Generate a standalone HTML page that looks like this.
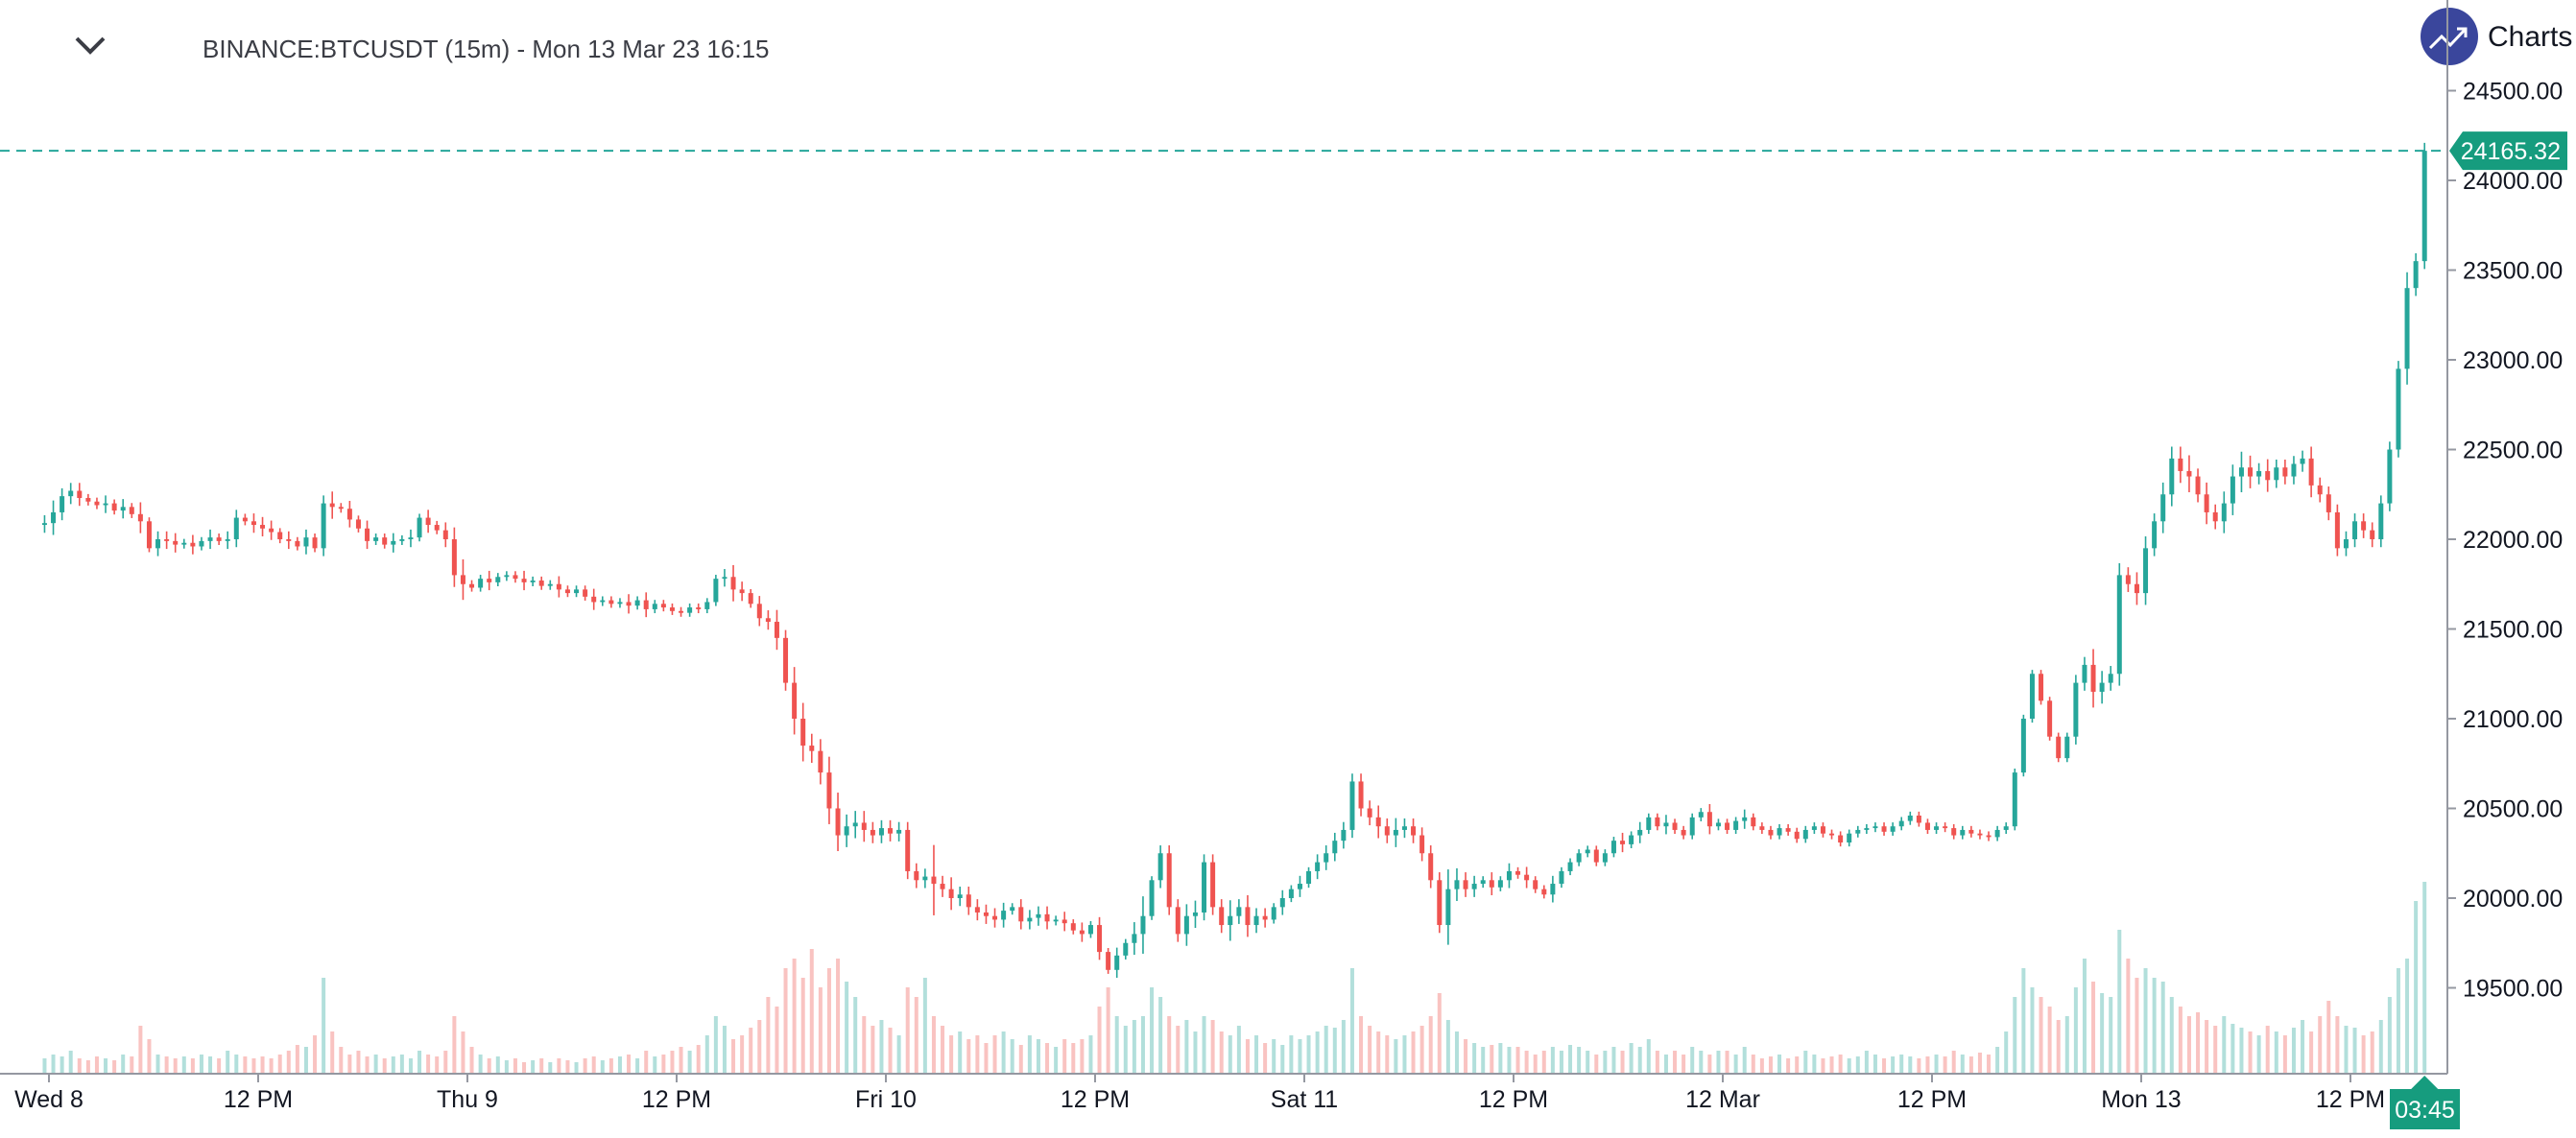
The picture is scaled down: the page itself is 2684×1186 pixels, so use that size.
<!DOCTYPE html>
<html><head><meta charset="utf-8"><style>
body{margin:0;background:#fff;width:2684px;height:1186px;overflow:hidden;font-family:"Liberation Sans",sans-serif}
svg{display:block}
</style></head><body>
<svg id="c" width="2684" height="1186" xmlns="http://www.w3.org/2000/svg">
<g>
<path d="M80 40 L94 54 L108 40" stroke="#3b3d45" stroke-width="4" fill="none"/>
<text x="211" y="60" font-size="26" fill="#3b3d45">BINANCE:BTCUSDT (15m) - Mon 13 Mar 23 16:15</text>
<circle cx="2552" cy="38" r="30" fill="#3a469c"/>
<path d="M2532 50 L2544 38 L2553 47 L2569 30 M2560 30 L2569 30 L2569 39" stroke="#fff" stroke-width="3" fill="none"/>
<text x="2592" y="48" font-size="30" fill="#131722">Charts p</text>
</g>
<g id="vol"></g>
<g id="candles"></g>
<g id="axes"></g>
</svg>
<script>
const closes=[22090,22150,22240,22270,22230,22210,22190,22200,22160,22180,22140,22100,21950,22000,21990,21970,21980,21960,21990,22010,21990,22000,22120,22100,22080,
22060,22040,22000,21990,21960,22010,21950,22200,22180,22170,22110,22060,21990,22010,21970,21990,22000,22010,22120,22080,22050,22000,21800,21750,
21730,21780,21760,21790,21800,21780,21760,21770,21740,21750,21720,21700,21720,21680,21650,21660,21640,21650,21630,21660,21610,21640,21620,21600,
21590,21620,21610,21650,21780,21790,21720,21700,21640,21560,21540,21450,21200,21000,20850,20820,20700,20500,20350,20400,20420,20380,20350,20390,
20360,20380,20150,20100,20120,20080,20050,20000,20020,19950,19920,19900,19880,19930,19950,19870,19890,19910,19870,19880,19860,19820,19800,19850,
19700,19600,19680,19750,19800,19900,20100,20250,19950,19800,19900,19920,20200,19950,19850,19900,19950,19850,19900,19880,19950,20000,20050,20080,
20150,20200,20250,20320,20380,20650,20500,20450,20400,20350,20380,20400,20350,20250,20100,19850,20050,20100,20050,20080,20100,20060,20100,20150,
20130,20100,20050,20020,20080,20150,20200,20250,20270,20200,20250,20320,20300,20350,20380,20450,20400,20420,20380,20350,20450,20480,20400,20420,
20380,20430,20450,20400,20380,20350,20390,20370,20330,20380,20400,20360,20350,20310,20360,20380,20390,20400,20370,20400,20430,20460,20420,20380,
20400,20390,20350,20380,20360,20350,20340,20380,20400,20700,21000,21250,21100,20900,20780,20900,21200,21300,21150,21200,21250,21800,21750,21700,
21950,22100,22250,22450,22380,22350,22250,22150,22100,22200,22350,22400,22350,22380,22330,22400,22350,22420,22450,22300,22250,22150,21950,22000,
22100,22050,22000,22200,22500,22950,23400,23550,24165];
const openFirst=22080;
const wicks="2322211212131222121212212"+"2212121231212112121212341"+"1211121112111211121211111"+"1112321223244334433322222"+"2282322222212222121212121"+"3512223322242322121212222"+"2223232222253221212121121"+"1111112121121111211121111"+"1111111111111111111111111"+"1111111122432323323334232"+"3343232222322222222224222"+"22222443D";
const volumes=[8,10,9,12,8,7,9,8,7,10,9,25,18,10,9,8,9,8,10,9,8,12,10,9,8,
9,8,10,12,15,14,20,50,22,14,10,12,9,10,8,9,10,8,12,10,9,12,30,22,
14,10,8,9,7,8,6,7,8,6,8,7,6,8,9,7,8,9,10,8,12,9,10,12,
14,12,15,20,30,25,18,20,24,28,40,35,55,60,50,65,45,55,60,48,40,30,25,28,
24,20,45,40,50,30,25,20,22,18,20,16,20,22,18,15,20,18,16,14,18,16,18,20,
35,45,30,25,28,30,45,40,30,25,28,22,30,28,22,20,25,18,20,16,18,15,20,18,
20,22,25,24,28,55,30,25,22,20,18,20,22,25,30,42,28,22,18,16,14,15,16,14,
14,12,10,12,14,12,15,14,12,10,12,14,12,16,14,18,12,10,12,10,14,12,10,12,
12,10,14,10,8,9,10,8,9,12,10,8,9,10,8,9,12,10,8,9,10,9,8,9,
10,9,12,10,9,11,10,14,22,40,55,45,40,35,28,30,45,60,48,42,40,75,60,50,
55,50,48,40,35,30,32,28,25,30,26,24,22,20,25,22,20,24,28,22,30,38,30,25,
24,20,22,28,40,55,60,90,100];
const priceTicks=[24500,24000,23500,23000,22500,22000,21500,21000,20500,20000,19500];
const timeLabels=["Wed 8","12 PM","Thu 9","12 PM","Fri 10","12 PM","Sat 11","12 PM","12 Mar","12 PM","Mon 13","12 PM"];
const lastPrice=24165.32;

const NS="http://www.w3.org/2000/svg";
const X0=51, HALF=218, CW=HALF/24, AXX=2550, AXY=1119;
const yP=p=>188-(p-24000)*0.187;
const xC=i=>X0+(i-1)*CW+CW/2;
const xT=k=>X0+k*HALF;
function mk(t,a,parent){const e=document.createElementNS(NS,t);for(const k in a)e.setAttribute(k,a[k]);parent.appendChild(e);return e;}
const vg=document.getElementById('vol'),cg=document.getElementById('candles'),ag=document.getElementById('axes');
const vmax=Math.max(...volumes);
closes.forEach((c,i)=>{
  const o=i===0?openFirst:closes[i-1];
  const up=c>=o;
  const w=(parseInt(wicks[i],36)||2)*22;
  const hi=Math.max(o,c)+w, lo=Math.min(o,c)-w;
  const x=xC(i);
  const v=volumes[i]||0;
  const vh=v/vmax*200;
  const vb=mk('rect',{x:x-2,y:AXY-vh,width:4,height:vh,fill:up?'#b2dfdb':'#f9c3c1'},vg);
  
  
  const col=up?'#26a69a':'#ef5350';
  const g=mk('g',{},cg);
  
  
  mk('line',{x1:x,x2:x,y1:yP(hi),y2:yP(lo),stroke:col,'stroke-width':1.6},g);
  const y1=yP(Math.max(o,c)),y2=yP(Math.min(o,c));
  mk('rect',{x:x-2.5,y:y1,width:5,height:Math.max(1.5,y2-y1),fill:col},g);
});
const lp=mk('line',{x1:0,x2:AXX,y1:yP(lastPrice),y2:yP(lastPrice),stroke:'#26a69a','stroke-width':2,'stroke-dasharray':'10,7'},ag);


const a1=mk('line',{x1:AXX,x2:AXX,y1:0,y2:AXY,stroke:'#9598a1','stroke-width':2},ag);


const a2=mk('line',{x1:0,x2:AXX,y1:AXY,y2:AXY,stroke:'#9598a1','stroke-width':2},ag);


priceTicks.forEach(p=>{
  const y=yP(p);
  mk('line',{x1:AXX,x2:AXX+9,y1:y,y2:y,stroke:'#9598a1','stroke-width':2},ag);
  const t=mk('text',{x:AXX+16,y:y+9,'font-size':25,fill:'#131722'},ag);
  t.textContent=p.toFixed(2);
  
  
});
timeLabels.forEach((l,k)=>{
  const x=xT(k);
  mk('line',{x1:x,x2:x,y1:AXY,y2:AXY+9,stroke:'#9598a1','stroke-width':2},ag);
  const t=mk('text',{x:x,y:AXY+35,'font-size':25,fill:'#131722','text-anchor':'middle'},ag);
  t.textContent=l;
  
  
});
const py=yP(lastPrice);
const pb=mk('path',{d:`M${AXX+2} ${py} L${AXX+16} ${py-20} L2675 ${py-20} L2675 ${py+20} L${AXX+16} ${py+20} Z`,fill:'#169c7e'},ag);


const pt=mk('text',{x:2668,y:py+9,'font-size':25,fill:'#fff','text-anchor':'end'},ag);
pt.textContent=lastPrice.toFixed(2);


const cx=xC(closes.length-1);
const cb=mk('path',{d:`M${cx} ${AXY+2} L${cx+14} ${AXY+16} L2563 ${AXY+16} L2563 ${AXY+58} L2490 ${AXY+58} L2490 ${AXY+16} L${cx-14} ${AXY+16} Z`,fill:'#169c7e'},ag);


const ct=mk('text',{x:2526.5,y:AXY+46,'font-size':25,fill:'#fff','text-anchor':'middle'},ag);
ct.textContent='03:45';


</script>
</body></html>
